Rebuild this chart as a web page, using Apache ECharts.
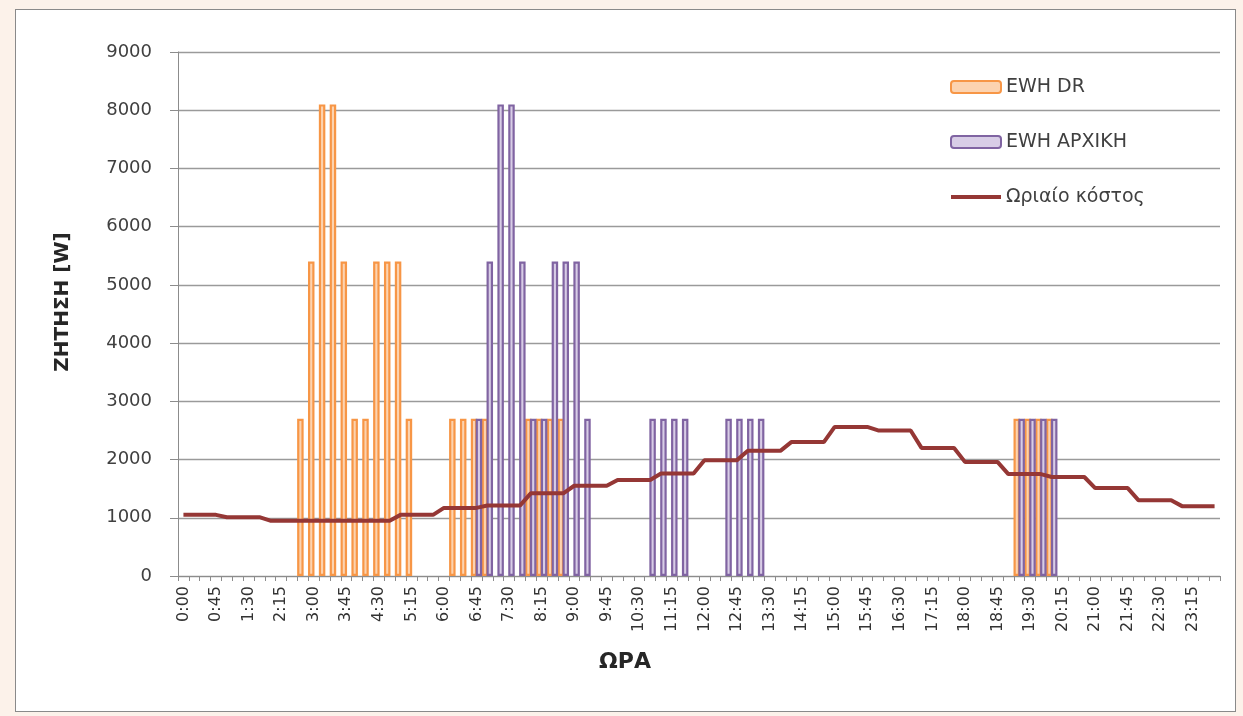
<!DOCTYPE html>
<html>
<head>
<meta charset="utf-8">
<script src="https://cdn.jsdelivr.net/npm/echarts@6/dist/echarts.min.js"></script>
<style>
  html, body { margin: 0; padding: 0; background: #fcf2ea; }
  #frame { position: absolute; left: 15px; top: 9px; width: 1219px; height: 701px;
           border: 1px solid #8a8a8a; background: #ffffff; }
  #chart { position: absolute; left: 0; top: 0; width: 1243px; height: 716px; }
</style>
</head>
<body>
<div id="frame"></div>
<div id="chart"></div>
<script>
// 15-minute time slots over one day
const times = [
  '0:00','0:15','0:30','0:45','1:00','1:15','1:30','1:45','2:00','2:15','2:30','2:45',
  '3:00','3:15','3:30','3:45','4:00','4:15','4:30','4:45','5:00','5:15','5:30','5:45',
  '6:00','6:15','6:30','6:45','7:00','7:15','7:30','7:45','8:00','8:15','8:30','8:45',
  '9:00','9:15','9:30','9:45','10:00','10:15','10:30','10:45','11:00','11:15','11:30','11:45',
  '12:00','12:15','12:30','12:45','13:00','13:15','13:30','13:45','14:00','14:15','14:30','14:45',
  '15:00','15:15','15:30','15:45','16:00','16:15','16:30','16:45','17:00','17:15','17:30','17:45',
  '18:00','18:15','18:30','18:45','19:00','19:15','19:30','19:45','20:00','20:15','20:30','20:45',
  '21:00','21:15','21:30','21:45','22:00','22:15','22:30','22:45','23:00','23:15','23:30','23:45'
];

// Water heater demand [W] with demand response (one row per hour)
const ewhDr = [
  0, 0, 0, 0,
  0, 0, 0, 0,
  0, 0, 0, 2700,
  5400, 8100, 8100, 5400,
  2700, 2700, 5400, 5400,
  5400, 2700, 0, 0,
  0, 2700, 2700, 2700,
  2700, 0, 0, 0,
  2700, 2700, 2700, 2700,
  0, 0, 0, 0,
  0, 0, 0, 0,
  0, 0, 0, 0,
  0, 0, 0, 0,
  0, 0, 0, 0,
  0, 0, 0, 0,
  0, 0, 0, 0,
  0, 0, 0, 0,
  0, 0, 0, 0,
  0, 0, 0, 0,
  0, 2700, 2700, 2700,
  2700, 0, 0, 0,
  0, 0, 0, 0,
  0, 0, 0, 0,
  0, 0, 0, 0
];

// Water heater demand [W], original schedule (one row per hour)
const ewhOriginal = [
  0, 0, 0, 0,
  0, 0, 0, 0,
  0, 0, 0, 0,
  0, 0, 0, 0,
  0, 0, 0, 0,
  0, 0, 0, 0,
  0, 0, 0, 2700,
  5400, 8100, 8100, 5400,
  2700, 2700, 5400, 5400,
  5400, 2700, 0, 0,
  0, 0, 0, 2700,
  2700, 2700, 2700, 0,
  0, 0, 2700, 2700,
  2700, 2700, 0, 0,
  0, 0, 0, 0,
  0, 0, 0, 0,
  0, 0, 0, 0,
  0, 0, 0, 0,
  0, 0, 0, 0,
  0, 2700, 2700, 2700,
  2700, 0, 0, 0,
  0, 0, 0, 0,
  0, 0, 0, 0,
  0, 0, 0, 0
];

// Hourly cost curve (same value across the four slots of each hour)
const hourlyCost = [
  1050, 1050, 1050, 1050,
  1010, 1010, 1010, 1010,
  950, 950, 950, 950,
  950, 950, 950, 950,
  950, 950, 950, 950,
  1050, 1050, 1050, 1050,
  1170, 1170, 1170, 1170,
  1210, 1210, 1210, 1210,
  1420, 1420, 1420, 1420,
  1550, 1550, 1550, 1550,
  1650, 1650, 1650, 1650,
  1760, 1760, 1760, 1760,
  1990, 1990, 1990, 1990,
  2150, 2150, 2150, 2150,
  2300, 2300, 2300, 2300,
  2560, 2560, 2560, 2560,
  2500, 2500, 2500, 2500,
  2200, 2200, 2200, 2200,
  1960, 1960, 1960, 1960,
  1750, 1750, 1750, 1750,
  1700, 1700, 1700, 1700,
  1510, 1510, 1510, 1510,
  1300, 1300, 1300, 1300,
  1200, 1200, 1200, 1200
];

const seriesNames = ['EWH DR', 'EWH ΑΡΧΙΚΗ', 'Ωριαίο κόστος'];
const yMin = 0, yMax = 9000, yStep = 1000;

const COST_COLOR = '#953735';

// empty slots are left without a bar
const asBars = arr => arr.map(v => (v === 0 ? '-' : v));

const FONT = '"DejaVu Sans", sans-serif';
const chart = echarts.init(document.getElementById('chart'), null, { renderer: 'canvas' });

chart.setOption({
  animation: false,
  backgroundColor: 'transparent',
  textStyle: { fontFamily: FONT },
  grid: { left: 178, right: 23, top: 52, bottom: 140, outerBoundsMode: 'none' },
  graphic: [
    {
      type: 'text', x: 625, y: 662,
      style: { text: 'ΩΡΑ', font: 'bold 22px ' + FONT, fill: '#262626', align: 'center', verticalAlign: 'middle' }
    },
    {
      type: 'text', x: 63, y: 302, rotation: Math.PI / 2,
      style: { text: 'ΖΗΤΗΣΗ [W]', font: 'bold 20px ' + FONT, fill: '#262626', align: 'center', verticalAlign: 'middle' }
    }
  ],
  legend: {
    orient: 'vertical',
    left: 944, top: 72,
    itemWidth: 50, itemHeight: 12, itemGap: 35,
    textStyle: { fontFamily: FONT, fontSize: 19, color: '#404040', lineHeight: 20 },
    data: [
      seriesNames[0],
      seriesNames[1],
      // plain thick line icon for the cost curve
      { name: seriesNames[2], itemStyle: { opacity: 0 }, lineStyle: { color: COST_COLOR, width: 4 } }
    ]
  },
  xAxis: {
    type: 'category',
    data: times,
    boundaryGap: true,
    axisLine: { lineStyle: { color: '#8c8c8c', width: 1 } },
    axisTick: { show: true, interval: 0, length: 5, lineStyle: { color: '#8c8c8c' } },
    axisLabel: { interval: 2, rotate: 90, margin: 10, fontFamily: FONT, fontSize: 16, color: '#333333' },
    splitLine: { show: false }
  },
  yAxis: {
    type: 'value',
    min: yMin, max: yMax, interval: yStep,
    axisLine: { show: true, lineStyle: { color: '#8c8c8c' } },
    axisTick: { show: true, length: 8, lineStyle: { color: '#8c8c8c' } },
    axisLabel: { margin: 26, fontFamily: FONT, fontSize: 18, color: '#404040', formatter: v => String(v) },
    splitLine: { lineStyle: { color: '#9a9a9a', width: 1.3 } }
  },
  series: [
    {
      name: seriesNames[0], type: 'bar', data: asBars(ewhDr),
      barWidth: 6.5, barGap: '-25%',
      itemStyle: { color: '#fcd3b0', borderColor: '#f79646', borderWidth: 2.2 }
    },
    {
      name: seriesNames[1], type: 'bar', data: asBars(ewhOriginal),
      barWidth: 6.5, barGap: '-25%',
      itemStyle: { color: '#d8cde6', borderColor: '#8064a2', borderWidth: 2.2 }
    },
    {
      name: seriesNames[2], type: 'line', data: hourlyCost,
      symbol: 'none', z: 5,
      lineStyle: { color: COST_COLOR, width: 4 },
      itemStyle: { color: COST_COLOR }
    }
  ]
});
</script>
</body>
</html>
